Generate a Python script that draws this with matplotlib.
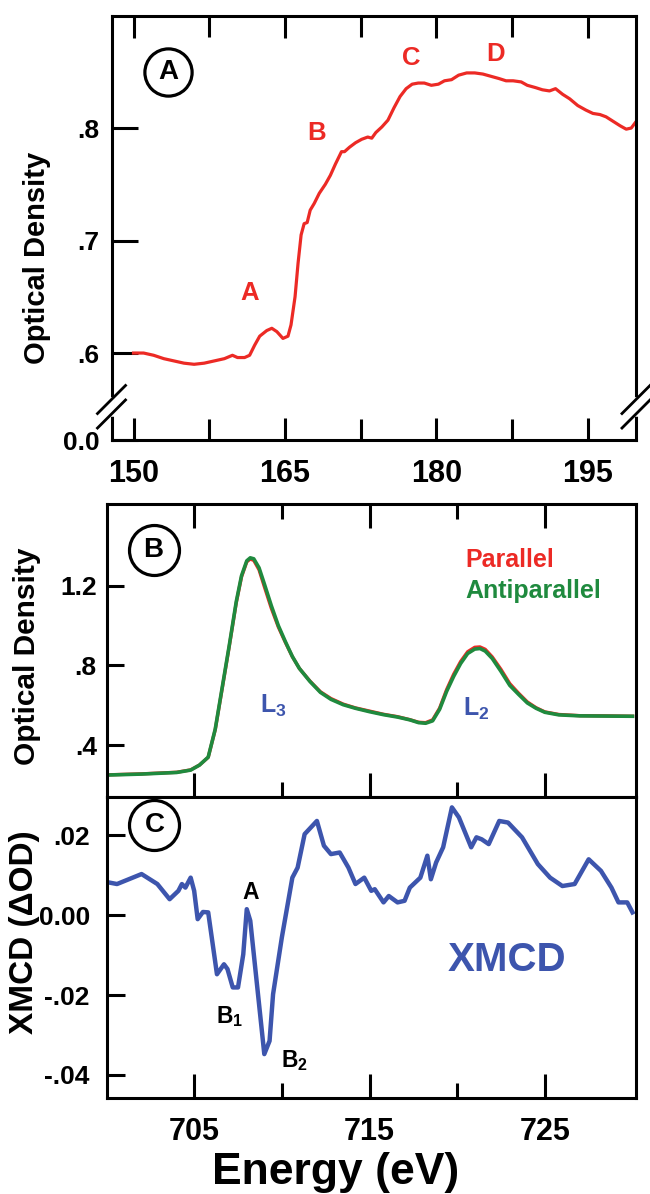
import matplotlib

matplotlib.use("Agg")
import matplotlib.pyplot as plt
import numpy as np

plt.rcParams["font.family"] = ["Liberation Sans", "DejaVu Sans"]
plt.rcParams["font.weight"] = "bold"
plt.rcParams["mathtext.fontset"] = "custom"
plt.rcParams["mathtext.rm"] = "Liberation Sans"
plt.rcParams["mathtext.bf"] = "Liberation Sans:bold"

RED = "#ec2a25"
GREEN = "#1f8a3e"
BLUE = "#3d55ad"

# ---- panel A: optical density (eV, OD) ----
energy_a = [150.0, 151.0, 152.0, 153.0, 154.0, 155.0, 156.0, 157.0, 158.0,
            159.0, 159.8, 160.3, 161.0, 161.5, 162.0, 162.5, 163.2, 163.7,
            164.2, 164.8, 165.3, 165.6, 166.0, 166.3, 166.6, 166.9, 167.2,
            167.5, 167.9, 168.4, 169.0, 169.5, 170.0, 170.6, 170.9, 171.4,
            172.0, 172.6, 173.2, 173.6, 174.0, 174.6, 175.2, 175.8, 176.4,
            177.0, 177.6, 178.2, 178.8, 179.5, 180.2, 180.8, 181.5, 182.2,
            183.0, 183.8, 184.6, 185.4, 186.2, 186.9, 187.6, 188.4, 189.0,
            189.8, 190.5, 191.2, 191.8, 192.5, 193.2, 194.0, 194.8, 195.5,
            196.2, 196.8, 197.5, 198.2, 198.8, 199.3, 199.8]
od_a = [0.600, 0.600, 0.598, 0.595, 0.593, 0.591, 0.590, 0.591, 0.593,
        0.595, 0.598, 0.596, 0.596, 0.598, 0.607, 0.615, 0.620, 0.622,
        0.619, 0.613, 0.615, 0.625, 0.650, 0.680, 0.705, 0.715, 0.716,
        0.727, 0.733, 0.742, 0.750, 0.758, 0.768, 0.779, 0.779, 0.783,
        0.787, 0.790, 0.792, 0.791, 0.796, 0.801, 0.807, 0.818, 0.828,
        0.835, 0.839, 0.840, 0.840, 0.838, 0.839, 0.842, 0.843, 0.847,
        0.849, 0.849, 0.848, 0.846, 0.844, 0.842, 0.842, 0.841, 0.838,
        0.836, 0.834, 0.833, 0.835, 0.830, 0.826, 0.820, 0.816, 0.813,
        0.812, 0.810, 0.806, 0.802, 0.799, 0.800, 0.806]
peak_names_a = ["A", "B", "C", "D"]
peak_x_a = [161.5, 168.1, 177.5, 185.9]
peak_y_a = [0.653, 0.796, 0.862, 0.866]

# ---- panel B: L-edge spectra, parallel / antiparallel ----
energy_b = [700.0, 702.0, 704.0, 704.8, 705.3, 705.8, 706.2, 706.6, 707.0,
            707.4, 707.7, 708.0, 708.2, 708.4, 708.7, 709.0, 709.4, 709.8,
            710.2, 710.6, 711.0, 711.6, 712.2, 712.8, 713.5, 714.2, 715.0,
            715.8, 716.6, 717.3, 717.8, 718.2, 718.6, 719.0, 719.4, 719.8,
            720.2, 720.6, 721.0, 721.3, 721.6, 722.0, 722.5, 723.0, 723.5,
            724.0, 724.5, 725.0, 725.8, 727.0, 728.5, 730.0]
od_anti = [0.250, 0.255, 0.263, 0.275, 0.300, 0.340, 0.480, 0.690, 0.900,
           1.120, 1.250, 1.325, 1.340, 1.335, 1.290, 1.210, 1.100, 1.000,
           0.920, 0.845, 0.785, 0.720, 0.665, 0.630, 0.603, 0.585, 0.568,
           0.553, 0.541, 0.527, 0.513, 0.510, 0.522, 0.580, 0.670, 0.745,
           0.810, 0.860, 0.882, 0.885, 0.872, 0.835, 0.770, 0.700, 0.655,
           0.612, 0.585, 0.565, 0.552, 0.547, 0.546, 0.545]
od_par = [0.251, 0.256, 0.264, 0.276, 0.300, 0.339, 0.477, 0.685, 0.895,
          1.114, 1.244, 1.320, 1.334, 1.327, 1.280, 1.196, 1.087, 0.993,
          0.916, 0.844, 0.785, 0.722, 0.668, 0.634, 0.606, 0.587, 0.571,
          0.555, 0.543, 0.528, 0.515, 0.513, 0.527, 0.586, 0.679, 0.756,
          0.820, 0.869, 0.891, 0.893, 0.881, 0.843, 0.780, 0.709, 0.661,
          0.617, 0.588, 0.567, 0.554, 0.548, 0.547, 0.545]
edge_names_b = [r"$\mathbf{L_3}$", r"$\mathbf{L_2}$"]
edge_x_b = [709.5, 721.1]
edge_y_b = [0.595, 0.58]

# ---- panel C: XMCD difference ----
energy_c = [700.0, 700.6, 702.0, 702.9, 703.6, 704.1, 704.3, 704.5, 704.8,
            705.0, 705.2, 705.5, 705.8, 706.3, 706.7, 706.9, 707.2, 707.5,
            707.8, 708.0, 708.2, 708.6, 709.0, 709.3, 709.5, 710.0, 710.6,
            710.9, 711.3, 712.0, 712.4, 712.8, 713.3, 713.8, 714.2, 714.7,
            715.1, 715.3, 715.8, 716.1, 716.6, 717.0, 717.3, 717.9, 718.3,
            718.5, 718.8, 719.2, 719.7, 720.1, 720.8, 721.1, 721.4, 721.8,
            722.4, 722.9, 723.7, 724.6, 725.3, 726.0, 726.7, 727.5, 728.2,
            728.8, 729.2, 729.7, 730.0]
xmcd = [0.0083, 0.0078, 0.0103, 0.0078, 0.0040, 0.0061, 0.0078, 0.0069,
        0.0094, 0.0061, -0.0010, 0.0008, 0.0007, -0.0148, -0.0123, -0.0135,
        -0.0181, -0.0181, -0.0098, 0.0015, -0.0014, -0.0181, -0.0348,
        -0.0315, -0.0198, -0.0056, 0.0094, 0.0119, 0.0203, 0.0236, 0.0174,
        0.0153, 0.0157, 0.0119, 0.0078, 0.0094, 0.0061, 0.0065, 0.0032,
        0.0048, 0.0032, 0.0036, 0.0069, 0.0094, 0.0149, 0.0090, 0.0132,
        0.0170, 0.0270, 0.0245, 0.0170, 0.0195, 0.0190, 0.0178, 0.0236,
        0.0232, 0.0195, 0.0128, 0.0094, 0.0073, 0.0078, 0.0140, 0.0111,
        0.0069, 0.0032, 0.0032, 0.0007]
feat_names_c = ["A", r"$\mathbf{B_1}$", r"$\mathbf{B_2}$"]
feat_x_c = [708.2, 707.05, 710.7]
feat_y_c = [0.0058, -0.0255, -0.0365]

# broken y axis for panel A: 0.0 squeezed right under the .56 break
BRK, Z0 = 0.56, 0.5227


def fwd(y):
    y = np.asarray(y, float)
    return np.where(y >= BRK, y, Z0 + y * (BRK - Z0) / BRK)


def inv(v):
    v = np.asarray(v, float)
    return np.where(v >= BRK, v, (v - Z0) * BRK / (BRK - Z0))


def style_axes(ax, lw=2.2):
    for s in ax.spines.values():
        s.set_linewidth(lw)


def circle_tag(ax, x, y, letter, size=36):
    ax.scatter([x], [y], s=size ** 2, facecolor="white", edgecolor="black",
               linewidths=2.3, transform=ax.transAxes, zorder=6, clip_on=False)
    ax.text(x, y, letter, transform=ax.transAxes, ha="center", va="center",
            fontsize=20, fontweight="bold", zorder=7)


fig = plt.figure(figsize=(6.5, 11.94), dpi=100)
ax_a = fig.add_axes([0.17154, 0.63149, 0.80692, 0.35511])
ax_b = fig.add_axes([0.16385, 0.33250, 0.81462, 0.24539])
ax_c = fig.add_axes([0.16385, 0.08040, 0.81462, 0.25209])

# ---- A ----
ax_a.set_yscale("function", functions=(fwd, inv))
ax_a.plot(energy_a, od_a, color=RED, lw=2.3)
ax_a.set_xlim(147.82, 199.77)
ax_a.set_ylim(0.0, 0.8996)
ax_a.set_xticks([150, 165, 180, 195])
ax_a.set_xticks([157.5, 172.5, 187.5], minor=True)
ax_a.set_yticks([0.0, 0.6, 0.7, 0.8])
ax_a.set_yticklabels(["0.0", ".6", ".7", ".8"])
ax_a.yaxis.set_minor_locator(matplotlib.ticker.NullLocator())
ax_a.tick_params(axis="x", which="both", direction="in", top=True,
                 width=2.2, labelsize=22, pad=14)
ax_a.tick_params(axis="x", which="major", length=16)
ax_a.tick_params(axis="x", which="minor", length=15)
ax_a.tick_params(axis="y", direction="in", length=19, width=2.2,
                 labelsize=19, pad=8.5)
style_axes(ax_a)
for name, x, y in zip(peak_names_a, peak_x_a, peak_y_a):
    ax_a.text(x, y, name, color=RED, fontsize=18.5, fontweight="bold",
              ha="center", va="center")
circle_tag(ax_a, 0.1077, 0.868, "A", size=34)

# spine break marks (//) on both sides
for xs in (0.0, 1.0):
    ax_a.plot([xs, xs], [0.0613, 0.0943], color="white", lw=4,
              transform=ax_a.transAxes, clip_on=False, zorder=8)
    for yc in (0.0955, 0.0613):
        ax_a.plot([xs - 0.0286, xs + 0.0286], [yc - 0.0354, yc + 0.0354],
                  color="black", lw=2.0, transform=ax_a.transAxes,
                  clip_on=False, zorder=9, solid_capstyle="butt")

# ---- B ----
ax_b.plot(energy_b, od_par, color=RED, lw=2.4)
ax_b.plot(energy_b, od_anti, color=GREEN, lw=2.6)
ax_b.set_xlim(700, 730.2)
ax_b.set_ylim(0.14, 1.61)
ax_b.set_xticks([705, 715, 725])
ax_b.set_xticks([710, 720], minor=True)
ax_b.set_yticks([0.4, 0.8, 1.2])
ax_b.set_yticklabels([".4", ".8", "1.2"])
ax_b.tick_params(axis="x", which="both", direction="in", top=True,
                 width=2.2, labelbottom=False)
ax_b.tick_params(axis="x", which="major", length=17)
ax_b.tick_params(axis="x", which="minor", length=11)
ax_b.tick_params(axis="y", direction="in", length=12, width=2.2,
                 labelsize=19, pad=7)
style_axes(ax_b)
for name, x, y in zip(edge_names_b, edge_x_b, edge_y_b):
    ax_b.text(x, y, name, color=BLUE, fontsize=18, ha="center", va="center")
ax_b.text(0.677, 0.809, "Parallel", color=RED, fontsize=18,
          fontweight="bold", transform=ax_b.transAxes, ha="left", va="center")
ax_b.text(0.677, 0.703, "Antiparallel", color=GREEN, fontsize=18,
          fontweight="bold", transform=ax_b.transAxes, ha="left", va="center")
circle_tag(ax_b, 0.0888, 0.843, "B")

# ---- C ----
ax_c.plot(energy_c, xmcd, color=BLUE, lw=3.2)
ax_c.set_xlim(700, 730.2)
ax_c.set_ylim(-0.0458, 0.0296)
ax_c.set_xticks([705, 715, 725])
ax_c.set_xticks([710, 720], minor=True)
ax_c.set_yticks([-0.04, -0.02, 0.0, 0.02])
ax_c.set_yticklabels(["-.04", "-.02", "0.00", ".02"])
ax_c.tick_params(axis="x", which="both", direction="in", width=2.2,
                 labelsize=22, pad=14)
ax_c.tick_params(axis="x", which="major", length=17)
ax_c.tick_params(axis="x", which="minor", length=11)
ax_c.tick_params(axis="y", direction="in", length=13, width=2.2,
                 labelsize=19, pad=12)
style_axes(ax_c)
for name, x, y in zip(feat_names_c, feat_x_c, feat_y_c):
    ax_c.text(x, y, name, fontsize=16.5, ha="center", va="center")
ax_c.text(722.86, -0.0113, "XMCD", color=BLUE, fontsize=29,
          fontweight="bold", ha="center", va="center")
circle_tag(ax_c, 0.0906, 0.907, "C")

# axis titles placed like the original figure
fig.text(37 / 650, 1 - 258 / 1194, "Optical Density", rotation=90,
         fontsize=21, fontweight="bold", ha="center", va="center")
fig.text(27 / 650, 1 - 656 / 1194, "Optical Density", rotation=90,
         fontsize=21.5, fontweight="bold", ha="center", va="center")
fig.text(24 / 650, 1 - 932 / 1194, "XMCD (\u0394OD)", rotation=90,
         fontsize=24, fontweight="bold", ha="center", va="center")
fig.text(336 / 650, 10 / 1194, "Energy (eV)", fontsize=32,
         fontweight="bold", ha="center", va="baseline")

fig.savefig("out.png", dpi=100)
